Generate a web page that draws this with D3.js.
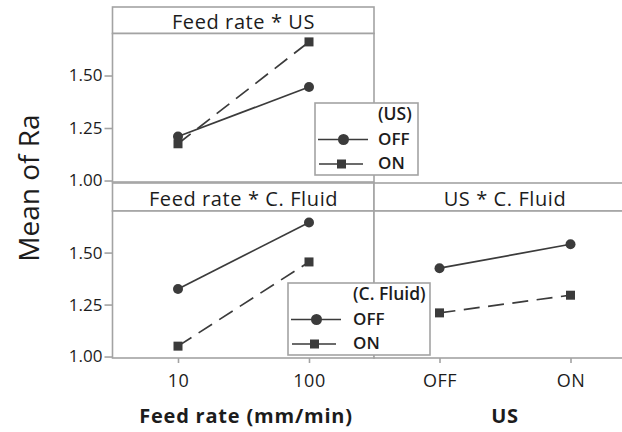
<!DOCTYPE html>
<html><head><meta charset="utf-8">
<script src="https://cdn.jsdelivr.net/npm/d3@7"></script>
<style>body{margin:0;background:#fff} svg{display:block} text{font-family:"Open Sans",sans-serif}</style>
</head><body><svg id="c" width="622" height="432"></svg>
<script>
// ---- data ----
const feedRates = ["10", "100"];
const usLevels = ["OFF", "ON"];
const yTicks = [1.00, 1.25, 1.50];
const feedUS_off = [1.21, 1.445];
const feedUS_on = [1.175, 1.66];
const feedFluid_off = [1.325, 1.645];
const feedFluid_on = [1.05, 1.455];
const usFluid_off = [1.425, 1.54];
const usFluid_on = [1.21, 1.295];
const legendLevels = ["OFF", "ON"];

// ---- layout ----
const svg = d3.select("#c");
const border = "#a3a3a3", ink = "#3b3b3b", txt = "#1c1c1c";
const yDomain = [0.993, 1.70];

const panels = [
  {title: "Feed rate * US", cats: feedRates, off: feedUS_off, on: feedUS_on,
   x0: 112.5, x1: 374, sy0: 7, py0: 33.5, py1: 182, yaxis: true, xaxis: false, tb: 29},
  {title: "Feed rate * C. Fluid", cats: feedRates, off: feedFluid_off, on: feedFluid_on,
   x0: 112.5, x1: 374, sy0: 183, py0: 211, py1: 358, yaxis: true, xaxis: true, tb: 205.5},
  {title: "US * C. Fluid", cats: usLevels, off: usFluid_off, on: usFluid_on,
   x0: 374, x1: 640, sy0: 183, py0: 211, py1: 358, yaxis: false, xaxis: true, tb: 205.5}
];

panels.forEach(p => {
  const g = svg.append("g");
  const x = d3.scalePoint().domain(p.cats).range([p.x0, p.x0 + 262]).padding(0.5);
  const y = d3.scaleLinear().domain(yDomain).range([p.py1, p.py0]);
  // strip
  g.append("rect").attr("x", p.x0).attr("y", p.sy0).attr("width", p.x1 - p.x0).attr("height", p.py0 - p.sy0)
    .attr("fill", "#fff").attr("stroke", border).attr("stroke-width", 1.6);
  g.append("text").attr("x", p.x0 + 131).attr("y", p.tb).attr("text-anchor", "middle")
    .attr("font-size", 20).attr("letter-spacing", 0.6).attr("fill", txt).text(p.title);
  // plot area
  g.append("rect").attr("x", p.x0).attr("y", p.py0).attr("width", p.x1 - p.x0).attr("height", p.py1 - p.py0)
    .attr("fill", "#fff").attr("stroke", border).attr("stroke-width", 1.6);
  if (p.yaxis) {
    const ya = g.append("g").attr("transform", `translate(${p.x0},0)`)
      .call(d3.axisLeft(y).tickValues(yTicks).tickFormat(d3.format(".2f")).tickSize(8).tickPadding(2));
    ya.select(".domain").remove();
    ya.selectAll("line").attr("stroke", border).attr("stroke-width", 1.6);
    ya.selectAll("text").attr("font-size", 17).attr("fill", txt).style("font-family", "'Open Sans',sans-serif");
  }
  if (p.xaxis) {
    const xa = g.append("g").attr("transform", `translate(0,${p.py1})`)
      .call(d3.axisBottom(x).tickSize(5).tickPadding(11));
    xa.select(".domain").remove();
    xa.selectAll("line").attr("stroke", border).attr("stroke-width", 1.6);
    xa.selectAll("text").attr("font-size", 18).attr("letter-spacing", 0.5).attr("fill", txt).style("font-family", "'Open Sans',sans-serif");
  }
  const line = d3.line().x((d, i) => x(p.cats[i])).y(d => y(d));
  g.append("path").datum(p.off).attr("d", line).attr("fill", "none").attr("stroke", ink).attr("stroke-width", 1.7);
  g.append("path").datum(p.on).attr("d", line).attr("fill", "none").attr("stroke", ink).attr("stroke-width", 1.7)
    .attr("stroke-dasharray", "16,8.5");
  g.selectAll("circle.m").data(p.off).join("circle").attr("class", "m")
    .attr("cx", (d, i) => x(p.cats[i])).attr("cy", d => y(d)).attr("r", 5).attr("fill", ink);
  g.selectAll("rect.m").data(p.on).join("rect").attr("class", "m")
    .attr("x", (d, i) => x(p.cats[i]) - 4.5).attr("y", d => y(d) - 4.5).attr("width", 9).attr("height", 9).attr("fill", ink);
});

// ---- legends ----
function legend(x0, y0, w, title, tx) {
  const g = svg.append("g").attr("transform", `translate(${x0},${y0})`);
  g.append("rect").attr("width", w).attr("height", 72).attr("fill", "#fff").attr("stroke", border).attr("stroke-width", 1.6);
  g.append("text").attr("x", tx).attr("y", 17).attr("font-size", 17.5).attr("font-weight", 600).attr("fill", txt).text(title);
  legendLevels.forEach((lv, i) => {
    const by = 41.5 + i * 24.5;
    const sy = by - 5;
    if (i === 0) {
      g.append("line").attr("x1", 3).attr("x2", 53).attr("y1", sy).attr("y2", sy).attr("stroke", ink).attr("stroke-width", 1.7);
      g.append("circle").attr("cx", 28.5).attr("cy", sy).attr("r", 5.5).attr("fill", ink);
    } else {
      g.append("line").attr("x1", 4).attr("x2", 48).attr("y1", sy).attr("y2", sy).attr("stroke", ink).attr("stroke-width", 1.7)
        .attr("stroke-dasharray", "18,8");
      g.append("rect").attr("x", 22).attr("y", sy - 4.5).attr("width", 9).attr("height", 9).attr("fill", ink);
    }
    g.append("text").attr("x", tx).attr("y", by).attr("font-size", 17).attr("font-weight", 600).attr("fill", txt).text(lv);
  });
}
legend(315, 103, 103, "(US)", 63);
legend(288, 283, 142, "(C. Fluid)", 65);

// ---- axis titles ----
svg.append("text").attr("transform", "translate(39,188) rotate(-90)").attr("text-anchor", "middle")
  .attr("font-size", 28).attr("fill", txt).text("Mean of Ra");
svg.append("text").attr("x", 246).attr("y", 423).attr("text-anchor", "middle").attr("font-size", 20)
  .attr("letter-spacing", 0.8).attr("font-weight", 700).attr("fill", txt).text("Feed rate (mm/min)");
svg.append("text").attr("x", 505).attr("y", 423).attr("text-anchor", "middle").attr("font-size", 20)
  .attr("letter-spacing", 0.8).attr("font-weight", 700).attr("fill", txt).text("US");
</script></body></html>
